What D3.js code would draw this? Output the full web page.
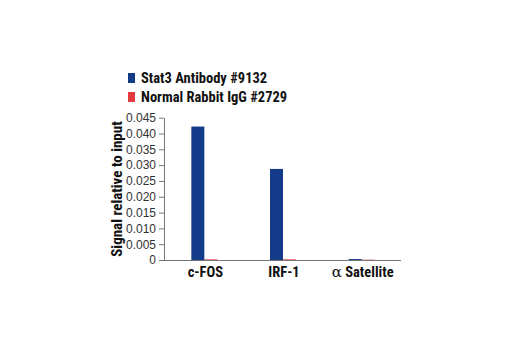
<!DOCTYPE html>
<html>
<head>
<meta charset="utf-8">
<script src="https://cdn.jsdelivr.net/npm/d3@7"></script>
<style>
  body { margin: 0; background: #fff; }
  .cond { font-family: "Liberation Sans Narrow", "Roboto Condensed", "Liberation Sans", sans-serif; font-weight: bold; }
</style>
</head>
<body>
<div id="chart"></div>
<script>
var categories = ["c-FOS", "IRF-1", "\u03b1 Satellite"];
var seriesNames = ["Stat3 Antibody #9132", "Normal Rabbit IgG #2729"];
var stat3 = [0.0422, 0.0288, 0.0003];
var igg = [0.0002, 0.0002, 0.0001];
var yTicks = [0, 0.005, 0.010, 0.015, 0.020, 0.025, 0.030, 0.035, 0.040, 0.045];
var colors = ["#143a8a", "#e23a3f"];

var width = 520, height = 350;
var svg = d3.select("#chart").append("svg")
    .attr("width", width)
    .attr("height", height);

var x = d3.scaleBand().domain(categories).range([165, 401]).paddingInner(0).paddingOuter(0);
var x1 = d3.scaleBand().domain([0, 1]).range([x.bandwidth() / 2 - 13, x.bandwidth() / 2 + 13]);
var y = d3.scaleLinear().domain([0, 0.045]).range([260, 117.7]);

// bars
var rows = categories.map(function (c, i) { return { cat: c, vals: [stat3[i], igg[i]] }; });
var g = svg.selectAll("g.grp").data(rows).enter().append("g")
    .attr("transform", function (d) { return "translate(" + x(d.cat) + ",0)"; });
g.selectAll("rect").data(function (d) { return d.vals; }).enter().append("rect")
    .attr("x", function (d, i) { return x1(i); })
    .attr("width", x1.bandwidth())
    .attr("y", function (d) { return y(d); })
    .attr("height", function (d) { return Math.max(y(0) - y(d), 1); })
    .attr("fill", function (d, i) { return colors[i]; });

// y axis
var yAxis = svg.append("g")
    .attr("transform", "translate(164,0)")
    .call(d3.axisLeft(y).tickValues(yTicks).tickSize(5).tickSizeOuter(0)
        .tickFormat(function (d) { return d === 0 ? "0" : d3.format(".3f")(d); }));
yAxis.select(".domain").attr("stroke", "#777");
yAxis.selectAll(".tick line").attr("stroke", "#777");
yAxis.selectAll(".tick text")
    .attr("font-family", "Liberation Sans, Arial, sans-serif")
    .attr("font-size", 12).attr("fill", "#333").attr("x", -8);

// x axis line
svg.append("line")
    .attr("x1", 164).attr("x2", 401)
    .attr("y1", y(0) + 0.5).attr("y2", y(0) + 0.5)
    .attr("stroke", "#777");

// x labels (alpha drawn in a serif face like the original)
var xl = svg.selectAll("text.xl").data(categories).enter().append("text")
    .attr("class", "cond")
    .attr("x", function (d) { return x(d) + x.bandwidth() / 2 + 1; })
    .attr("y", 277)
    .attr("text-anchor", "middle")
    .attr("font-size", 14.5)
    .attr("fill", "#111");
xl.each(function (d) {
    var t = d3.select(this);
    if (d.charAt(0) === "\u03b1") {
        t.append("tspan").attr("font-family", "DejaVu Serif, serif").attr("font-weight", "normal")
            .attr("font-size", 15).text("\u03b1");
        t.append("tspan").text("\u00a0" + d.slice(2));
    } else {
        t.text(d);
    }
});

// y label
svg.append("text")
    .attr("class", "cond")
    .attr("transform", "translate(122,189) rotate(-90)")
    .attr("text-anchor", "middle")
    .attr("font-size", 15)
    .attr("fill", "#111")
    .text("Signal relative to input");

// legend
var lg = svg.selectAll("g.lg").data(seriesNames).enter().append("g")
    .attr("transform", function (d, i) { return "translate(128," + (73 + i * 19) + ")"; });
lg.append("rect").attr("width", 7).attr("height", 10)
    .attr("fill", function (d, i) { return colors[i]; });
lg.append("text").attr("class", "cond")
    .attr("x", 13).attr("y", 10)
    .attr("font-size", 14.5).attr("fill", "#111")
    .text(function (d) { return d; });
</script>
</body>
</html>
